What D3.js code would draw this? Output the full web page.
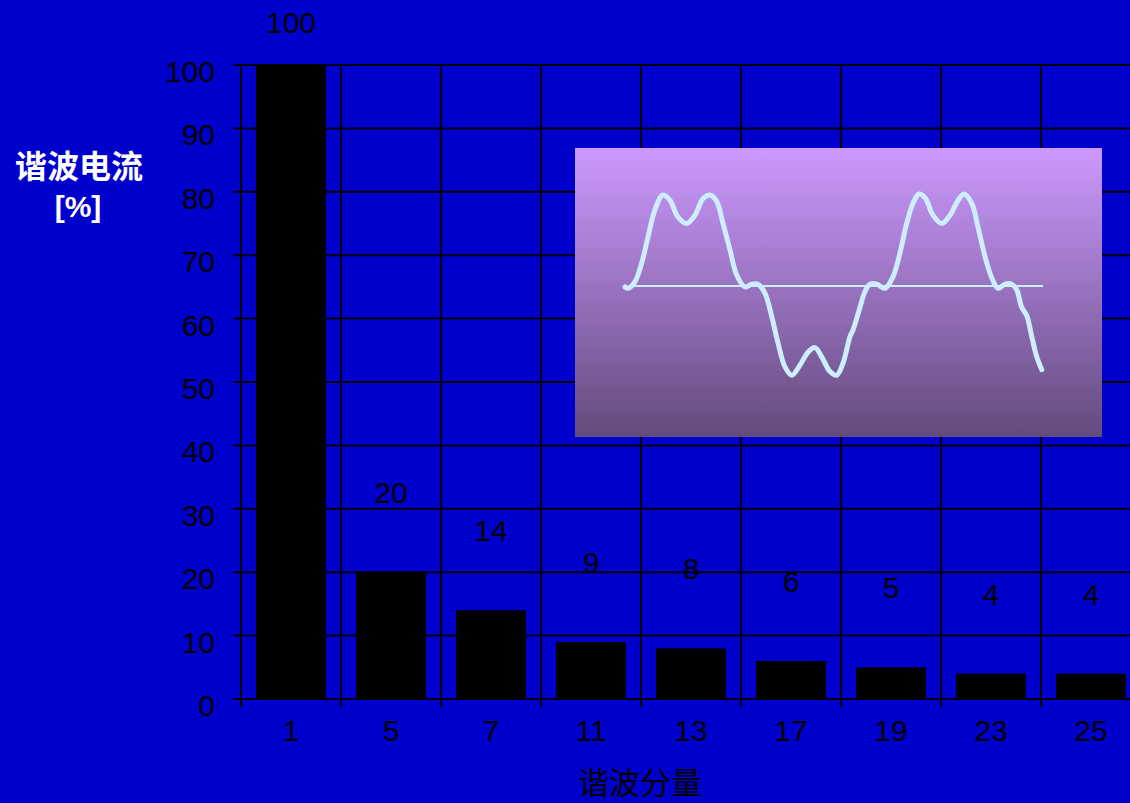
<!DOCTYPE html>
<html>
<head>
<meta charset="utf-8">
<script src="https://cdn.jsdelivr.net/npm/d3@7"></script>
<style>
  html, body { margin: 0; padding: 0; background: #0000CC; overflow: hidden; }
  svg { display: block; }
</style>
</head>
<body>
<svg id="chart" width="1130" height="803"></svg>
<script>
// Harmonic orders and their current share (% of fundamental)
const harmonics = ["1", "5", "7", "11", "13", "17", "19", "23", "25"];
const currentPct = [100, 20, 14, 9, 8, 6, 5, 4, 4];
const yTicks = [0, 10, 20, 30, 40, 50, 60, 70, 80, 90, 100];

// Distorted current waveform for the inset: phase (degrees) and per-unit amplitude
const wavePhase = [0, 4.6, 14.1, 23.5, 32.3, 42.2, 53.4, 63.3, 74.5, 86.8, 98.4, 109.7, 119.5, 129,
  137.8, 147.7, 157.1, 168.8, 178.2, 187, 196.9, 206.3, 215.2, 225, 234.4, 246.1, 257.3, 267.2,
  276.6, 288.3, 297.7, 306.6, 316.4, 320.6, 330.5, 337.5, 344.5, 354, 365.6, 376.9, 386.7, 396.1,
  405, 413.4, 421.9, 433.1, 445.4, 457, 468.3, 476.7, 487.5, 496.4, 506.3, 515.7, 524.5, 534.4,
  543.8, 550.8, 557.8, 564.9, 572, 579, 586.1];
const waveAmp = [-0.01, -0.025, 0.047, 0.25, 0.53, 0.83, 0.99, 0.93, 0.75, 0.68, 0.77, 0.95, 0.99, 0.92,
  0.68, 0.39, 0.12, -0.01, 0.02, 0.02, -0.08, -0.33, -0.62, -0.88, -0.97, -0.86, -0.72, -0.67,
  -0.77, -0.93, -0.97, -0.84, -0.55, -0.48, -0.23, -0.06, 0.02, 0.02, -0.025, 0.10, 0.36, 0.68,
  0.90, 1.0, 0.96, 0.77, 0.68, 0.77, 0.93, 1.0, 0.90, 0.64, 0.32, 0.09, -0.025, 0.02,
  0.02, -0.04, -0.23, -0.32, -0.55, -0.77, -0.91];
const baselinePhase = [4, 588];

const svg = d3.select("#chart");
const latin = "'Liberation Sans', Arial, sans-serif";
const cjk = "'Noto Sans CJK SC', 'Noto Sans', sans-serif";
const fontSize = 30;

const plot = { left: 241, right: 1141, top: 65, bottom: 699 };

const x = d3.scaleBand()
  .domain(harmonics)
  .range([plot.left, plot.right])
  .paddingInner(0.3)
  .paddingOuter(0.15);

const y = d3.scaleLinear().domain([0, 100]).range([plot.bottom, plot.top]);

// Horizontal grid lines (with ticks poking out to the left)
svg.append("g")
  .selectAll("line")
  .data(yTicks)
  .join("line")
  .attr("x1", plot.left - 8)
  .attr("x2", plot.right)
  .attr("y1", d => y(d))
  .attr("y2", d => y(d))
  .attr("stroke", "#000")
  .attr("stroke-width", 2);

// Vertical category boundaries (extending below the axis as ticks)
const bounds = harmonics.map(h => x(h) - x.step() * 0.15).concat([plot.right]);
svg.append("g")
  .selectAll("line")
  .data(bounds)
  .join("line")
  .attr("x1", d => d)
  .attr("x2", d => d)
  .attr("y1", plot.top)
  .attr("y2", plot.bottom + 8)
  .attr("stroke", "#000")
  .attr("stroke-width", 2);

// Bars
svg.append("g")
  .selectAll("rect")
  .data(harmonics)
  .join("rect")
  .attr("x", d => x(d))
  .attr("width", x.bandwidth())
  .attr("y", (d, i) => y(currentPct[i]))
  .attr("height", (d, i) => y(0) - y(currentPct[i]))
  .attr("fill", "#000");

// Value labels above the bars
svg.append("g")
  .selectAll("text")
  .data(harmonics)
  .join("text")
  .attr("x", d => x(d) + x.bandwidth() / 2)
  .attr("y", (d, i) => Math.max(y(currentPct[i]) - 69, 33))
  .attr("text-anchor", "middle")
  .attr("font-family", latin)
  .attr("font-size", fontSize)
  .attr("fill", "#000")
  .text((d, i) => currentPct[i]);

// Y tick labels
svg.append("g")
  .selectAll("text")
  .data(yTicks)
  .join("text")
  .attr("x", 215)
  .attr("y", d => y(d) + 17)
  .attr("text-anchor", "end")
  .attr("font-family", latin)
  .attr("font-size", fontSize)
  .attr("fill", "#000")
  .text(d => d);

// X tick labels
svg.append("g")
  .selectAll("text")
  .data(harmonics)
  .join("text")
  .attr("x", d => x(d) + x.bandwidth() / 2)
  .attr("y", 741)
  .attr("text-anchor", "middle")
  .attr("font-family", latin)
  .attr("font-size", fontSize)
  .attr("fill", "#000")
  .text(d => d);

// Axis titles
const yTitle = svg.append("g").attr("fill", "#fff").attr("font-weight", "bold").attr("text-anchor", "middle");
yTitle.append("text")
  .attr("x", 79).attr("y", 178)
  .attr("font-family", cjk).attr("font-size", 32)
  .text("谐波电流");
yTitle.append("text")
  .attr("x", 78).attr("y", 217)
  .attr("font-family", latin).attr("font-size", 30)
  .text("[%]");

svg.append("text")
  .attr("x", 640).attr("y", 794)
  .attr("text-anchor", "middle")
  .attr("font-family", cjk)
  .attr("font-size", 31)
  .attr("fill", "#000")
  .text("谐波分量");

// Inset: distorted current waveform
const inset = { x0: 575, x1: 1102, y0: 148, y1: 437 };
const defs = svg.append("defs");
const grad = defs.append("linearGradient")
  .attr("id", "insetFill")
  .attr("x1", 0).attr("y1", 0).attr("x2", 0).attr("y2", 1);
grad.append("stop").attr("offset", "0%").attr("stop-color", "#CC99FF");
grad.append("stop").attr("offset", "100%").attr("stop-color", "#634A7C");

svg.append("rect")
  .attr("x", inset.x0).attr("y", inset.y0)
  .attr("width", inset.x1 - inset.x0)
  .attr("height", inset.y1 - inset.y0)
  .attr("fill", "url(#insetFill)");

const wx = d3.scaleLinear().domain([0, 360]).range([625, 881]);
const wy = d3.scaleLinear().domain([-1, 1]).range([378, 194]);

svg.append("line")
  .attr("x1", wx(baselinePhase[0])).attr("x2", wx(baselinePhase[1]))
  .attr("y1", wy(0)).attr("y2", wy(0))
  .attr("stroke", "#CCEEFF")
  .attr("stroke-width", 2);

const wave = d3.line()
  .x(i => wx(wavePhase[i]))
  .y(i => wy(waveAmp[i]))
  .curve(d3.curveCatmullRom.alpha(0.5));

svg.append("path")
  .attr("d", wave(d3.range(wavePhase.length)))
  .attr("fill", "none")
  .attr("stroke", "#CCEEFF")
  .attr("stroke-width", 5)
  .attr("stroke-linecap", "round")
  .attr("stroke-linejoin", "round");
</script>
</body>
</html>
